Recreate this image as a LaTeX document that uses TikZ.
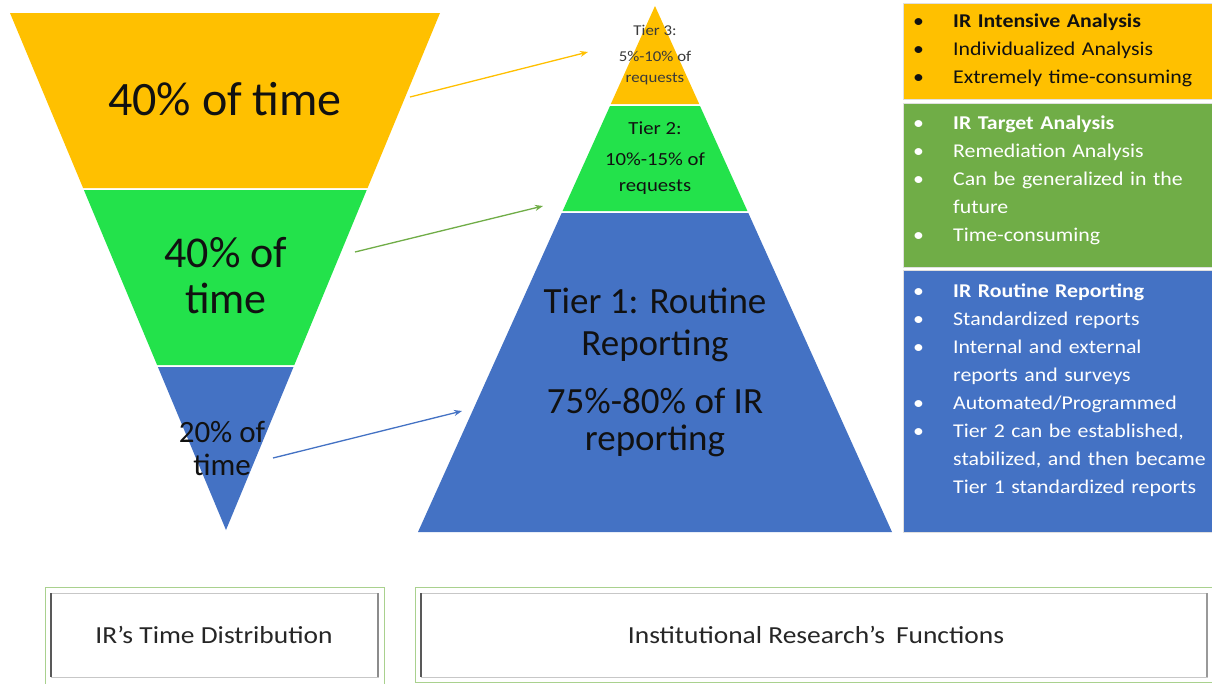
\documentclass[tikz,border=0pt]{standalone}
\usepackage{fontspec}
\setmainfont{Carlito}
\newfontfamily\widefont[FakeStretch=1.12]{Carlito}
\usetikzlibrary{arrows.meta}

\definecolor{tierorange}{HTML}{FFC000}
\definecolor{tiergreen}{HTML}{23E24B}
\definecolor{tierblue}{HTML}{4472C4}
\definecolor{boxgreen}{HTML}{70AD47}
\definecolor{inktext}{HTML}{111111}
\definecolor{softtext}{HTML}{3A3A3A}
\definecolor{framegreen}{HTML}{A9D18E}

% bullet list lines with a fixed hanging indent
\newcommand{\bitem}[1]{\makebox[40pt][l]{\textbullet}#1}
\newcommand{\bcont}[1]{\hspace*{40pt}#1}

\tikzset{
  big/.style={text=inktext, align=center, inner sep=0pt},
  small/.style={text=softtext, align=center, inner sep=0pt},
  listtext/.style={anchor=base west, inner sep=0pt, text width=300pt, align=left},
  boxedge/.style={draw=black!12, line width=1pt},
  link/.style={line width=1.3pt, -{Stealth[length=8pt,width=6pt]}},
  caption/.style={text=black!85, inner sep=0pt, font=\widefont\fontsize{24.5}{28}\selectfont}
}

\begin{document}
\begin{tikzpicture}[x=1pt,y=-1pt]
\useasboundingbox (0,0) rectangle (1212,683);
\fill[white] (0,0) rectangle (1212,683);

% inverted funnel: time distribution
\fill[tierorange] (10,13) -- (440,13) -- (367.6,188) -- (83.1,188) -- cycle;
\fill[tiergreen] (83.9,190) -- (366.7,190) -- (294.3,365) -- (157.1,365) -- cycle;
\fill[tierblue] (157.9,367) -- (293.5,367) -- (226,530) -- cycle;

\node[big, font=\fontsize{48}{50}\selectfont] (f1) at (225,99) {40\% of time};
\node[big, font=\fontsize{44}{46}\selectfont] (f2) at (226,276) {40\% of\\time};
\node[big, font=\fontsize{31}{33}\selectfont] (f3) at (222,448) {20\% of\\time};

% pyramid: tiers of functions
\fill[tierorange] (655,6) -- (699.2,104) -- (610.8,104) -- cycle;
\fill[tiergreen] (610,106) -- (700,106) -- (747.4,211) -- (562.6,211) -- cycle;
\fill[tierblue] (561.7,213) -- (748.3,213) -- (892,532) -- (418,532) -- cycle;

\node[small, font=\widefont\fontsize{15}{17}\selectfont] (t3a) at (655,30) {Tier 3:};
\node[small, font=\widefont\fontsize{15}{21}\selectfont] (t3b) at (655,68) {5\%-10\% of\\requests};
\node[big, font=\widefont\fontsize{18.5}{20}\selectfont] (t2a) at (655,128) {Tier 2:};
\node[big, font=\widefont\fontsize{18.5}{26}\selectfont] (t2b) at (655,174) {10\%-15\% of\\requests};
\node[big, font=\fontsize{37}{42}\selectfont] (t1a) at (655,325) {Tier 1: Routine\\Reporting};
\node[big, font=\fontsize{37}{37}\selectfont] (t1b) at (655,422) {75\%-80\% of IR\\reporting};

% links from time share to tier
\coordinate (o1) at (410,97);  \coordinate (o2) at (588,52);
\coordinate (g1) at (355,252); \coordinate (g2) at (543,206);
\coordinate (b1) at (273,458); \coordinate (b2) at (462,411);
\draw[link, tierorange] (o1) -- (o2);
\draw[link, boxgreen] (g1) -- (g2);
\draw[link, tierblue] (b1) -- (b2);

% descriptions of each tier
\draw[boxedge, fill=tierorange] (903,3) rectangle (1213,99);
\draw[boxedge, fill=boxgreen] (903,103) rectangle (1213,267);
\draw[boxedge, fill=tierblue] (903,270) rectangle (1213,532);

\node[listtext, text=inktext, font=\widefont\fontsize{19.5}{28}\selectfont] (l3) at (913,27)
  {\bitem{\textbf{IR Intensive Analysis}}\\
   \bitem{Individualized Analysis}\\
   \bitem{Extremely time-consuming}};
\node[listtext, text=white, font=\widefont\fontsize{19.5}{28}\selectfont] (l2) at (913,129)
  {\bitem{\textbf{IR Target Analysis}}\\
   \bitem{Remediation Analysis}\\
   \bitem{Can be generalized in the}\\
   \bcont{future}\\
   \bitem{Time-consuming}};
\node[listtext, text=white, font=\widefont\fontsize{19.5}{28}\selectfont] (l1) at (913,297)
  {\bitem{\textbf{IR Routine Reporting}}\\
   \bitem{Standardized reports}\\
   \bitem{Internal and external}\\
   \bcont{reports and surveys}\\
   \bitem{Automated/Programmed}\\
   \bitem{Tier 2 can be established,}\\
   \bcont{stabilized, and then became}\\
   \bcont{Tier 1 standardized reports}};

% caption frames
\draw[framegreen, line width=1pt] (45,587) rectangle (384,690);
\draw[black!22, line width=1pt] (51,593) rectangle (378,677);
\draw[black!65, line width=1.2pt] (51,593) -- (51,677);
\draw[black!45, line width=1.2pt] (378,593) -- (378,677);
\node[caption] (cap1) at (214,635) {IR’s Time Distribution};

\draw[framegreen, line width=1pt] (415,587) rectangle (1220,682);
\draw[black!22, line width=1pt] (421,593) rectangle (1207,677);
\draw[black!65, line width=1.2pt] (421,593) -- (421,677);
\draw[black!40, line width=1.2pt] (1207,593) -- (1207,677);
\node[caption] (cap2) at (816,635) {Institutional Research’s\hspace{0.45em}Functions};
\end{tikzpicture}
\end{document}
